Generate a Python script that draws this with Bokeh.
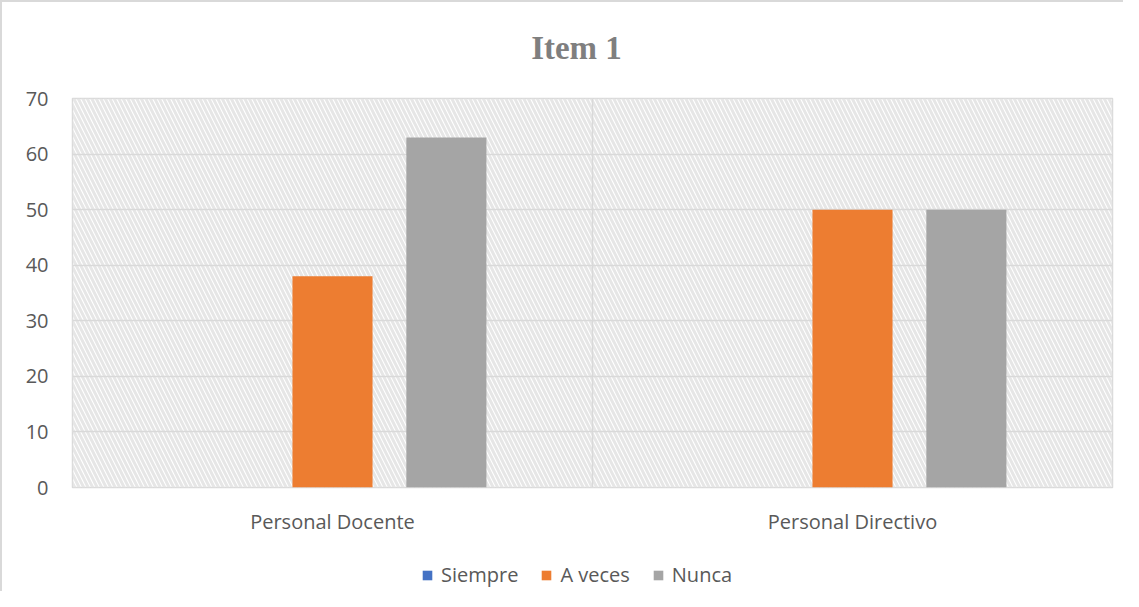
from bokeh.plotting import figure
from bokeh.models import Range1d, FixedTicker, BoxAnnotation, Legend, LegendItem, Label
from bokeh.layouts import column
from bokeh.embed import file_html
from bokeh.resources import INLINE

title_text = "Item 1"
categories = ["Personal Docente", "Personal Directivo"]
series = ["Siempre", "A veces", "Nunca"]
siempre = [0, 0]
a_veces = [38, 50]
nunca = [63, 50]
colors = ["#4472C4", "#ED7D31", "#A5A5A5"]
y_ticks = [0, 10, 20, 30, 40, 50, 60, 70]

centers = [i + 0.5 for i in range(len(categories))]
offsets = [-0.219, 0.0, 0.219]
bar_w = 0.154
TEXT = "#595959"
GRID = "#d9d9d9"
FONT = "Open Sans"
W = 1121


def strip(h):
    f = figure(width=W, height=h, x_range=Range1d(0, 1), y_range=Range1d(0, 1),
               output_backend="svg", toolbar_location=None, min_border=0)
    f.axis.visible = False
    f.grid.visible = False
    f.outline_line_color = None
    return f


# Title strip
tf = strip(76)
tf.add_layout(Label(x=504, y=31, x_units="screen", y_units="screen",
                    text=title_text, text_align="center", text_baseline="middle",
                    text_font="Liberation Serif", text_font_style="bold",
                    text_font_size="33px", text_color="#7f7f7f"))

p = figure(width=W, height=459, x_range=Range1d(0, len(categories)),
           y_range=Range1d(0, 70), output_backend="svg", toolbar_location=None,
           min_border_left=70, min_border_right=11, min_border_top=20,
           min_border_bottom=50)

hatch = BoxAnnotation(fill_color=None, line_color=None, hatch_pattern="\\",
                      hatch_color="#e6e6e6", hatch_scale=9, hatch_weight=3,
                      level="image")
p.add_layout(hatch)

p.outline_line_color = GRID
p.outline_line_width = 1.5

p.xgrid.ticker = FixedTicker(ticks=list(range(len(categories) + 1)))
p.ygrid.ticker = FixedTicker(ticks=y_ticks)
p.xgrid.grid_line_color = GRID
p.ygrid.grid_line_color = GRID
p.xgrid.grid_line_width = 1.5
p.ygrid.grid_line_width = 1.5

p.xaxis.ticker = FixedTicker(ticks=centers)
p.xaxis.major_label_overrides = {c: lab for c, lab in zip(centers, categories)}
p.yaxis.ticker = FixedTicker(ticks=y_ticks)
for ax in (p.xaxis[0], p.yaxis[0]):
    ax.axis_line_color = None
    ax.major_tick_line_color = None
    ax.minor_tick_line_color = None
    ax.major_label_text_font = FONT
    ax.major_label_text_font_size = "20px"
    ax.major_label_text_color = TEXT
p.yaxis.major_label_standoff = 18
p.xaxis.major_label_standoff = 14

# Legend strip below the chart
lf = strip(54)

items = []
for vals, name, col, off in zip([siempre, a_veces, nunca], series, colors, offsets):
    p.vbar(x=[c + off for c in centers], top=vals, width=bar_w, bottom=0,
           fill_color=col, line_color=None)
    lr = lf.vbar(x=[0.5], top=[0], bottom=0, width=0.1, fill_color=col,
                 line_color=None)
    items.append(LegendItem(label=name, renderers=[lr]))

legend = Legend(items=items, orientation="horizontal", location=(349, 3),
                label_text_font=FONT, label_text_font_size="20px",
                label_text_color=TEXT, glyph_width=12, glyph_height=12,
                label_standoff=8, spacing=22, padding=0, margin=0,
                border_line_color=None, background_fill_alpha=0)
lf.add_layout(legend, "center")

layout = column(tf, p, lf, spacing=0)
layout.styles = {"border-left": "2px solid #d9d9d9", "border-top": "2px solid #d9d9d9"}

open("out.html", "w").write(file_html(layout, INLINE))
